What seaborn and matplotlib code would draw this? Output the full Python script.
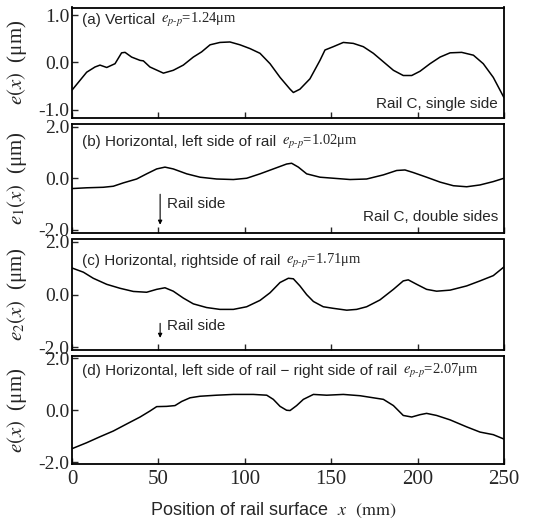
import matplotlib
matplotlib.use("Agg")
import matplotlib.pyplot as plt
import seaborn as sns
from matplotlib.ticker import FormatStrFormatter

# -----------------------------
# Data (x in mm, e in um)
# -----------------------------
a_x = [0, 8.5, 13.3, 16.2, 20.1, 24.9, 28.7, 30.7, 34.5, 39.4, 41.3, 45.1, 52.9, 58.6, 64.4,
       70.2, 75.0, 79.9, 85.6, 91.4, 97.2, 103.0, 108.8, 114.6, 120.4, 126.2, 128.1, 131.9,
       137.7, 143.5, 146.4, 151.2, 157.0, 162.8, 168.6, 174.4, 180.2, 186.0, 191.7, 196.6,
       201.4, 207.2, 213.0, 218.8, 225.5, 232.3, 238.0, 243.8, 250]
a_y = [-0.59, -0.21, -0.10, -0.06, -0.11, -0.03, 0.20, 0.21, 0.11, 0.04, 0.03, -0.10, -0.23,
       -0.17, -0.06, 0.11, 0.22, 0.37, 0.42, 0.43, 0.37, 0.29, 0.19, -0.03, -0.32, -0.57, -0.64,
       -0.57, -0.35, 0.04, 0.26, 0.33, 0.42, 0.40, 0.33, 0.19, 0.01, -0.17, -0.28, -0.28, -0.19,
       -0.03, 0.11, 0.20, 0.21, 0.15, -0.03, -0.32, -0.75]

b_x = [0, 8.5, 18.1, 23.9, 29.7, 37.4, 43.2, 49.0, 53.8, 58.6, 66.4, 74.1, 83.7, 93.4, 101.1,
       108.8, 116.5, 124.2, 127.1, 131.0, 135.8, 143.5, 151.2, 160.9, 170.5, 180.2, 187.9,
       192.7, 197.5, 205.2, 213.0, 220.7, 228.4, 236.1, 243.8, 250]
b_y = [-0.40, -0.37, -0.35, -0.31, -0.18, -0.03, 0.17, 0.36, 0.43, 0.36, 0.17, 0.04, -0.03,
       -0.05, 0.0, 0.17, 0.36, 0.55, 0.58, 0.43, 0.17, 0.04, 0.0, -0.05, -0.03, 0.13, 0.30,
       0.32, 0.22, 0.04, -0.15, -0.29, -0.33, -0.26, -0.13, 0.0]

c_x = [0, 6.6, 12.3, 20.1, 27.8, 35.5, 43.2, 49.0, 53.8, 58.6, 64.4, 70.2, 77.9, 85.6, 93.4,
       101.1, 108.8, 114.6, 120.4, 125.2, 128.1, 131.9, 135.8, 139.7, 145.4, 151.2, 159.0,
       164.7, 170.5, 178.2, 186.0, 191.7, 194.6, 199.5, 205.2, 211.0, 218.8, 228.4, 236.1,
       243.8, 250]
c_y = [1.01, 0.85, 0.62, 0.39, 0.24, 0.12, 0.09, 0.20, 0.26, 0.13, -0.13, -0.35, -0.49, -0.56,
       -0.56, -0.46, -0.22, 0.07, 0.46, 0.62, 0.60, 0.33, 0.0, -0.26, -0.46, -0.52, -0.59,
       -0.56, -0.46, -0.20, 0.20, 0.52, 0.56, 0.39, 0.20, 0.13, 0.17, 0.33, 0.52, 0.72, 1.05]

d_x = [0, 8.5, 16.2, 23.9, 31.6, 39.4, 45.1, 49.0, 54.8, 59.6, 63.5, 68.3, 74.1, 83.7, 93.4,
       104.9, 112.7, 116.5, 120.4, 124.2, 126.2, 130.0, 133.9, 139.7, 147.4, 157.0, 166.7,
       174.4, 180.2, 186.0, 191.7, 196.6, 201.4, 205.2, 211.0, 218.8, 228.4, 236.1, 243.8, 250]
d_y = [-1.48, -1.25, -1.02, -0.80, -0.53, -0.26, -0.03, 0.14, 0.15, 0.18, 0.34, 0.48, 0.54,
       0.58, 0.61, 0.61, 0.58, 0.42, 0.15, 0.0, -0.01, 0.18, 0.42, 0.61, 0.58, 0.61, 0.56,
       0.48, 0.42, 0.18, -0.20, -0.26, -0.17, -0.12, -0.20, -0.37, -0.64, -0.84, -0.94, -1.11]

panel_titles = ["(a) Vertical",
                "(b) Horizontal, left side of rail",
                "(c) Horizontal, rightside of rail",
                "(d) Horizontal, left side of rail \u2212 right side of rail"]
epp_values = ["1.24", "1.02", "1.71", "2.07"]
ylabels = [r"$e(x)$  (μm)", r"$e_1(x)$  (μm)", r"$e_2(x)$  (μm)", r"$e(x)$  (μm)"]
x_ticks = [0, 50, 100, 150, 200, 250]

# -----------------------------
# Style
# -----------------------------
sns.set_style("ticks")
plt.rcParams["font.family"] = ["Liberation Serif", "DejaVu Serif"]
plt.rcParams["mathtext.fontset"] = "stix"
plt.rcParams["axes.unicode_minus"] = False
plt.rcParams["axes.linewidth"] = 1.3

W, H = 546, 520
fig = plt.figure(figsize=(W / 100, H / 100), dpi=100)

left_px, right_px = 72, 504
rows_px = [(7.5, 118), (124.5, 233), (239.5, 350), (356, 464)]
ylims = [(-1.18, 1.16), (-2.12, 2.08), (-2.1, 2.09), (-2.07, 2.09)]
yticks = [[-1.0, 0.0, 1.0], [-2.0, 0.0, 2.0], [-2.0, 0.0, 2.0], [-2.0, 0.0, 2.0]]

# title height in data units of each panel
title_y = [0.9, 1.4, 1.27, 1.5]

series = [(a_x, a_y), (b_x, b_y), (c_x, c_y), (d_x, d_y)]
axes = []
for i, ((top, bot), (xs, ys)) in enumerate(zip(rows_px, series)):
    ax = fig.add_axes([left_px / W, 1 - bot / H, (right_px - left_px) / W, (bot - top) / H])
    axes.append(ax)
    sns.lineplot(x=xs, y=ys, ax=ax, color="black", linewidth=1.1)
    ax.set_xlim(0, 250)
    ax.set_ylim(*ylims[i])
    ax.set_xticks(x_ticks)
    ax.set_yticks(yticks[i])
    ax.yaxis.set_major_formatter(FormatStrFormatter("%.1f"))
    ax.tick_params(direction="in", length=4, width=1, labelsize=14, pad=2)
    if i < 3:
        ax.tick_params(axis="x", labelbottom=False)
    else:
        ax.tick_params(axis="x", labelsize=15, pad=4)
    for s in ax.spines.values():
        s.set_color("black")
    ax.set_ylabel(ylabels[i], fontsize=15)
    ax.yaxis.set_label_coords(-0.1, 0.5)

    tr = ax.get_yaxis_transform()
    title = ax.text(0.023, title_y[i], panel_titles[i], transform=tr, ha="left", va="center",
                    fontsize=11, family="Liberation Sans")
    # e_pp placed just after the panel title
    ax.annotate(r"$e_{p\text{-}p}$=" + epp_values[i] + "μm", xy=(1, 0.5), xycoords=title,
                xytext=(4, 0), textcoords="offset points", ha="left", va="center",
                fontsize=10.5, family="Liberation Serif")

# corner notes
axes[0].text(0.986, -0.89, "Rail C, single side", transform=axes[0].get_yaxis_transform(),
             ha="right", va="center", fontsize=11, family="Liberation Sans")
axes[1].text(0.986, -1.51, "Rail C, double sides", transform=axes[1].get_yaxis_transform(),
             ha="right", va="center", fontsize=11, family="Liberation Sans")

# rail side arrows
for ax, (y0, y1, ty) in zip(axes[1:3], [(-0.62, -1.8, -1.0), (-1.09, -1.64, -1.18)]):
    ax.annotate("", xy=(51, y1), xytext=(51, y0),
                arrowprops=dict(arrowstyle="-|>", color="black", lw=0.8,
                                mutation_scale=6, shrinkA=0, shrinkB=0))
    ax.text(55, ty, "Rail side", ha="left", va="center", fontsize=11, family="Liberation Sans")

fig.text(273.5 / W, 1 - 510 / H, r"Position of rail surface  $x$  $\mathrm{(mm)}$",
         ha="center", va="center", fontsize=13, family="Liberation Sans")

fig.savefig("out.png", dpi=100)
